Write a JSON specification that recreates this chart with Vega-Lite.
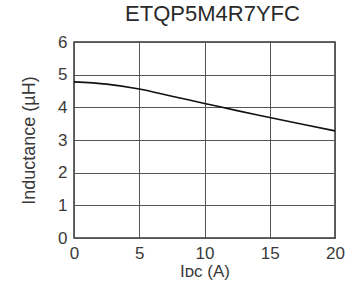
{
  "$schema": "https://vega.github.io/schema/vega-lite/v6.json",
  "width": 261,
  "height": 196,
  "autosize": "none",
  "padding": {"left": 74, "top": 42, "right": 11, "bottom": 44},
  "background": "white",
  "title": {"text": "ETQP5M4R7YFC", "fontSize": 22, "font": "Liberation Sans", "fontWeight": "normal", "color": "#2a2a2a", "anchor": "middle", "offset": 7, "dx": 8},
  "data": {"values": [
    {"current": 0, "inductance": 4.78},
    {"current": 2.5, "inductance": 4.71},
    {"current": 5, "inductance": 4.56},
    {"current": 7.5, "inductance": 4.34},
    {"current": 10, "inductance": 4.12},
    {"current": 12.5, "inductance": 3.9},
    {"current": 15, "inductance": 3.69},
    {"current": 17.5, "inductance": 3.48},
    {"current": 20, "inductance": 3.28}
  ]},
  "mark": {"type": "line", "color": "#111", "strokeWidth": 1.6, "interpolate": "monotone"},
  "encoding": {
    "x": {"field": "current", "type": "quantitative", "scale": {"domain": [0, 20], "nice": false},
      "axis": {"values": [0, 5, 10, 15, 20], "title": "Iᴅᴄ (A)", "labelPadding": 7, "titlePadding": 2, "labelFlush": false, "labelOverlap": false}},
    "y": {"field": "inductance", "type": "quantitative", "scale": {"domain": [0, 6], "nice": false},
      "axis": {"values": [0, 1, 2, 3, 4, 5, 6], "title": "Inductance (µH)", "labelPadding": 7, "titlePadding": 19, "titleFontSize": 18, "labelFlush": false, "labelOverlap": false}}
  },
  "config": {
    "view": {"stroke": "#333", "strokeWidth": 1.5},
    "axis": {
      "domain": false, "ticks": false, "grid": true, "gridColor": "#555", "gridOpacity": 1, "gridWidth": 1,
      "labelFont": "Liberation Sans", "labelFontSize": 17, "labelColor": "#3a3a3a",
      "titleFont": "Liberation Sans", "titleFontSize": 17, "titleFontWeight": "normal", "titleColor": "#3a3a3a"
    }
  }
}
